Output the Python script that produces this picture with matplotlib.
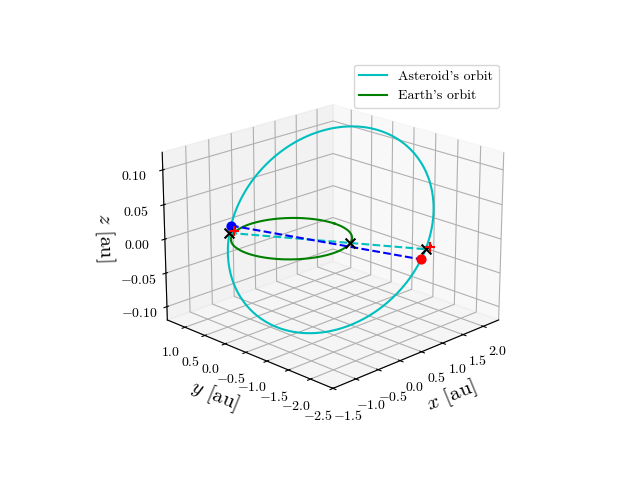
import numpy as np
import matplotlib
matplotlib.use("Agg")
import matplotlib.pyplot as plt

plt.rcParams.update({"font.family": "serif", "font.serif": ["cmr10"],
                     "mathtext.fontset": "cm", "axes.formatter.use_mathtext": True})

# orbital elements (read/estimated from picture)
a_ast = 1.7
e_ast = 0.38
inc_deg = -3.8
Omega_deg = 121.0
omega_deg = 20.0
earth_r = 1.0
blue_u_deg = -6.0
red_u_deg = 176.0

def orbit_xyz(a, e, i, Om, w, nu):
    i, Om, w, nu = map(np.radians, (i, Om, w, nu))
    r = a * (1 - e**2) / (1 + e * np.cos(nu))
    u = w + nu
    x = r * (np.cos(Om) * np.cos(u) - np.sin(Om) * np.sin(u) * np.cos(i))
    y = r * (np.sin(Om) * np.cos(u) + np.cos(Om) * np.sin(u) * np.cos(i))
    z = r * np.sin(u) * np.sin(i)
    return x, y, z

nu = np.linspace(0, 360, 400)
ax_, ay_, az_ = orbit_xyz(a_ast, e_ast, inc_deg, Omega_deg, omega_deg, nu)
t = np.linspace(0, 2 * np.pi, 300)
ex, ey, ez = earth_r * np.cos(t), earth_r * np.sin(t), 0 * t

n1 = orbit_xyz(a_ast, e_ast, inc_deg, Omega_deg, omega_deg, -omega_deg)
n2 = orbit_xyz(a_ast, e_ast, inc_deg, Omega_deg, omega_deg, 180 - omega_deg)
om = np.radians(Omega_deg)
em = (earth_r * np.cos(om + np.pi), earth_r * np.sin(om + np.pi), 0)
b = orbit_xyz(a_ast, e_ast, inc_deg, Omega_deg, omega_deg, blue_u_deg - omega_deg)
rd = orbit_xyz(a_ast, e_ast, inc_deg, Omega_deg, omega_deg, red_u_deg - omega_deg)

fig = plt.figure(figsize=(6.4, 4.8), dpi=100)
ax = fig.add_subplot(projection="3d")
ax.plot(ax_, ay_, az_, color="c", label="Asteroid's orbit")
ax.plot(ex, ey, ez, color="g", label="Earth's orbit")
ax.plot([n1[0], n2[0]], [n1[1], n2[1]], [0, 0], "c--")
ax.plot([b[0], rd[0]], [b[1], rd[1]], [b[2], rd[2]], "b--")
ax.scatter([n1[0], em[0], n2[0]], [n1[1], em[1], n2[1]], [0, 0, 0], color="k", marker="x", s=50, depthshade=False, zorder=5)
ax.scatter([n1[0] + 0.05, n2[0] + 0.05], [n1[1] - 0.05, n2[1] - 0.05], [0.003, 0.003], color="r", marker="+", s=60, depthshade=False)
ax.scatter([b[0]], [b[1]], [b[2]], color="b", s=40, depthshade=False)
ax.scatter([rd[0]], [rd[1]], [rd[2]], color="r", s=40, depthshade=False)

ax.set_xlabel("$x$ [au]", fontsize=15)
ax.set_ylabel("$y$ [au]", fontsize=15)
ax.set_zlabel("$z$ [au]", fontsize=15)
ax.set_xticks([-1.5, -1.0, -0.5, 0.0, 0.5, 1.0, 1.5, 2.0])
ax.set_yticks([-2.5, -2.0, -1.5, -1.0, -0.5, 0.0, 0.5, 1.0])
ax.set_zticks([-0.10, -0.05, 0.0, 0.05, 0.10])
ax.set_zlim(-0.12, 0.125)
ax.view_init(elev=20, azim=-135)
ax.legend(loc="upper right", bbox_to_anchor=(0.79, 0.88), bbox_transform=fig.transFigure)
fig.savefig("out.png", dpi=100)
